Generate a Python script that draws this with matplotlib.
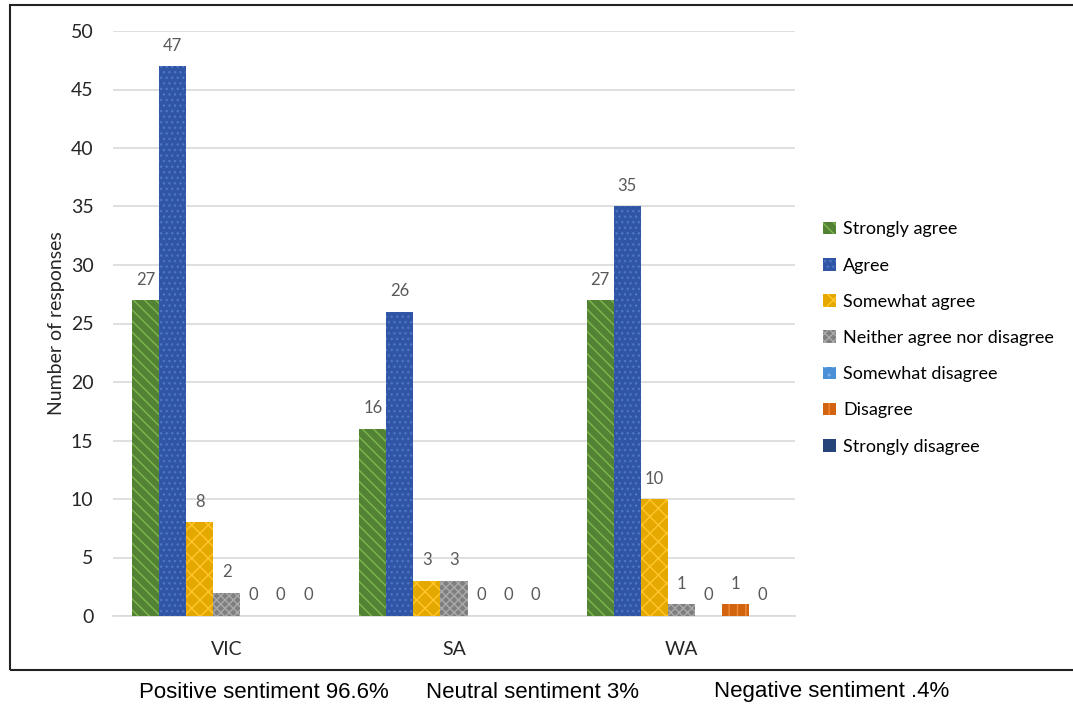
import matplotlib
matplotlib.use('Agg')
import matplotlib.pyplot as plt
import numpy as np
from matplotlib.patches import Rectangle, Patch

# survey responses per state
states = ['VIC', 'SA', 'WA']
responses = ['Strongly agree', 'Agree', 'Somewhat agree', 'Neither agree nor disagree',
             'Somewhat disagree', 'Disagree', 'Strongly disagree']
strongly_agree = [27, 16, 27]
agree = [47, 26, 35]
somewhat_agree = [8, 3, 10]
neither = [2, 3, 1]
somewhat_disagree = [0, 0, 0]
disagree = [0, 0, 1]
strongly_disagree = [0, 0, 0]
sentiments = ['Positive sentiment 96.6%', 'Neutral sentiment 3%', 'Negative sentiment .4%']

series = [strongly_agree, agree, somewhat_agree, neither,
          somewhat_disagree, disagree, strongly_disagree]

# fill colour, hatch colour, hatch
styles = [
    ('#548235', '#7CB84E', '\\\\\\'),
    ('#2F55A4', '#4D74C8', '...'),
    ('#E5A800', '#FFC72C', 'xx'),
    ('#7F7F7F', '#AAAAAA', 'xxxx'),
    ('#4A90D6', '#7DB3E8', '..'),
    ('#D2640F', '#F08A3A', '||'),
    ('#264478', '#3A5A94', ''),
]

fig = plt.figure(figsize=(10.73, 7.07), dpi=100)
ax = fig.add_axes([113 / 1073, 1 - 616 / 707, (795 - 113) / 1073, (616 - 31) / 707])

x = np.arange(len(states))
n = len(series)
w = 0.119
for i, vals in enumerate(series):
    face, hc, hatch = styles[i]
    pos = x + (i - (n - 1) / 2) * w
    bars = ax.bar(pos, vals, w, color=face, edgecolor=hc, linewidth=0, hatch=hatch, zorder=3)
    for b, v in zip(bars, vals):
        ax.annotate(str(v), (b.get_x() + b.get_width() / 2, v), xytext=(0, 9),
                    textcoords='offset points', ha='center', va='bottom',
                    fontsize=12, color='#595959', family='Lato')

ax.set_xlim(-0.5, 2.5)
ax.set_ylim(0, 50)
ax.set_yticks(range(0, 51, 5))
ax.set_xticks(x)
ax.set_xticklabels(states)
ax.tick_params(axis='both', length=0, labelsize=14, labelcolor='#262626')
for lab in ax.get_xticklabels() + ax.get_yticklabels():
    lab.set_family('Lato')
ax.tick_params(axis='y', pad=14)
ax.tick_params(axis='x', pad=18)
ax.yaxis.grid(True, color='#D9D9D9', linewidth=1.2, zorder=0)
for s in ['top', 'right', 'left']:
    ax.spines[s].set_visible(False)
ax.spines['bottom'].set_color('#D9D9D9')
ax.spines['bottom'].set_linewidth(1.2)
ax.set_ylabel('Number of responses', fontsize=14, family='Lato', color='#262626', labelpad=4)

handles = [Patch(facecolor=s[0], edgecolor=s[1], linewidth=0, hatch=s[2]) for s in styles]
fig.legend(handles, responses, loc='center left', bbox_to_anchor=(0.752, 0.522),
           frameon=False, prop={'family': 'Lato', 'size': 13}, labelspacing=1.12,
           handlelength=0.7, handleheight=0.7, handletextpad=0.4)

# outer frame
fig.patches.append(Rectangle((10 / 1073, 1 - 670 / 707), 1.0, (670 - 5) / 707,
                             transform=fig.transFigure, fill=False,
                             edgecolor='#222222', linewidth=1.5))

for xs, txt in zip([264, 533, 832], sentiments):
    fig.text(xs / 1073, 1 - 692 / 707, txt, ha='center', va='center', fontsize=16,
             family=['Liberation Sans Narrow', 'Liberation Sans'], color='black')

fig.savefig('out.png', dpi=100)
